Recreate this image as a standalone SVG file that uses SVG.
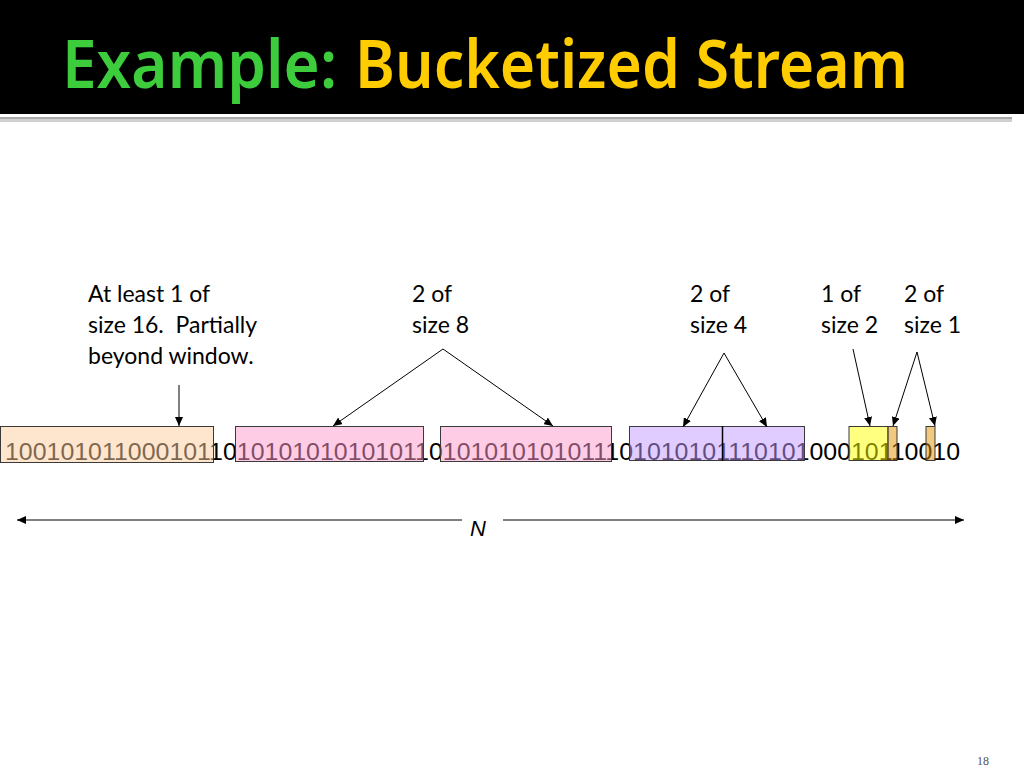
<svg xmlns="http://www.w3.org/2000/svg" width="1024" height="768" viewBox="0 0 1024 768">
<defs>
<marker id="ah" markerUnits="userSpaceOnUse" markerWidth="10" markerHeight="8" refX="9" refY="4" orient="auto">
<path d="M0,0 L9,4 L0,8 z" fill="#000"/>
</marker>
<style>
.lbl{font-family:Lato,"Open Sans","Liberation Sans",sans-serif;font-size:23px;fill:#000}
.bits{font-family:"Liberation Sans",Arial,sans-serif;font-size:24.5px;fill:#000}
.bk{stroke:#3a3a3a;stroke-width:1}
.con{stroke:#000;stroke-width:1;fill:none;marker-end:url(#ah)}
.ttl{font-family:"Noto Sans","Open Sans",sans-serif;font-size:66px;font-weight:600}
</style>
</defs>
<rect x="0" y="0" width="1024" height="768" fill="#fff"/>
<g id="header">
<rect x="0" y="0" width="1024" height="114" fill="#000"/>
<rect x="0" y="117" width="1012" height="2" fill="#a8a8a8"/>
<rect x="0" y="119" width="1012" height="3" fill="#d0d0d0"/>
<text class="ttl" x="62" y="88" fill="#3ccc3c" textLength="275" lengthAdjust="spacingAndGlyphs">Example:</text>
<text class="ttl" x="355" y="88" fill="#ffcc00" textLength="553" lengthAdjust="spacingAndGlyphs">Bucketized Stream</text>
</g>
<g id="stream">
<text class="bits" x="5" y="460" textLength="955" lengthAdjust="spacingAndGlyphs">1001010110001011010101010101011010101010101110101010111010100010110010</text>
</g>
<g id="bucket16">
<rect class="bk" x="0.5" y="426.5" width="213" height="36" fill="rgb(251,203,157)" fill-opacity="0.5"/>
</g>
<g id="bucket8a">
<rect class="bk" x="235.5" y="426.5" width="188" height="35" fill="rgb(255,153,203)" fill-opacity="0.5"/>
</g>
<g id="bucket8b">
<rect class="bk" x="440.5" y="426.5" width="171" height="35" fill="rgb(255,153,203)" fill-opacity="0.5"/>
</g>
<g id="bucket4a">
<rect class="bk" x="629.5" y="426.5" width="93" height="34" fill="rgb(195,153,255)" fill-opacity="0.5"/>
</g>
<g id="bucket4b">
<rect class="bk" x="722.5" y="426.5" width="82" height="34" fill="rgb(195,153,255)" fill-opacity="0.5"/>
<line x1="722.5" y1="426" x2="722.5" y2="461" stroke="#000" stroke-width="1.5"/>
</g>
<g id="bucket2">
<rect class="bk" x="849" y="426.5" width="39" height="34" fill="rgb(255,255,1)" fill-opacity="0.5"/>
</g>
<g id="bucket1a">
<rect class="bk" x="888" y="426.5" width="9" height="34" fill="rgb(225,145,0)" fill-opacity="0.5"/>
</g>
<g id="bucket1b">
<rect class="bk" x="926" y="426.5" width="9" height="34" fill="rgb(225,145,0)" fill-opacity="0.5"/>
</g>
<g id="label16">
<text class="lbl" x="88" y="302">At least 1 of</text>
<text class="lbl" x="88" y="333" xml:space="preserve">size 16.  Partially</text>
<text class="lbl" x="88" y="364">beyond window.</text>
</g>
<g id="label8">
<text class="lbl" x="412" y="302">2 of</text>
<text class="lbl" x="412" y="333">size 8</text>
</g>
<g id="label4">
<text class="lbl" x="690" y="302">2 of</text>
<text class="lbl" x="690" y="333">size 4</text>
</g>
<g id="label2">
<text class="lbl" x="821" y="302">1 of</text>
<text class="lbl" x="821" y="333">size 2</text>
</g>
<g id="label1">
<text class="lbl" x="904" y="302">2 of</text>
<text class="lbl" x="904" y="333">size 1</text>
</g>
<g id="window">
<text x="478" y="536" font-family="'Liberation Sans',Arial,sans-serif" font-style="italic" font-size="22" text-anchor="middle">N</text>
</g>
<g id="connectors">
<line class="con" x1="179" y1="385" x2="179" y2="426"/>
<line class="con" x1="443" y1="349" x2="333" y2="426"/>
<line class="con" x1="443" y1="349" x2="553" y2="426"/>
<line class="con" x1="724" y1="353" x2="683" y2="427"/>
<line class="con" x1="724" y1="353" x2="767" y2="427"/>
<line class="con" x1="853" y1="349" x2="870" y2="426"/>
<line class="con" x1="917" y1="352" x2="893" y2="426"/>
<line class="con" x1="917" y1="352" x2="935" y2="426"/>
<line class="con" x1="462" y1="520" x2="17" y2="520"/>
<line class="con" x1="503" y1="520" x2="964" y2="520"/>
</g>
<g id="page">
<text x="983" y="765" font-family="'Liberation Serif',serif" font-size="12" fill="#555" text-anchor="middle">18</text>
</g>
</svg>
